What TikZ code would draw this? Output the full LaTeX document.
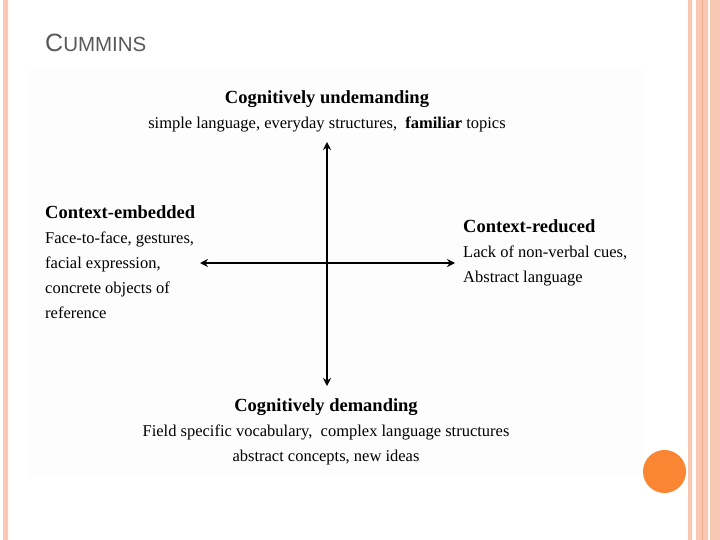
\documentclass[tikz,border=0pt]{standalone}
\usepackage{fontspec}
\usetikzlibrary{arrows.meta}
\setmainfont{Liberation Serif}
\newfontfamily\titlefont{Liberation Sans}
\definecolor{bandpink}{HTML}{F9C8B4}
\definecolor{banddark}{HTML}{EEA88A}
\definecolor{dotorange}{HTML}{FA8633}
\definecolor{titlegray}{HTML}{595959}
\definecolor{pastegray}{HTML}{FDFDFD}
\tikzset{
	head/.style={font=\bfseries\fontsize{18.5}{25}\selectfont},
	body/.style={inner sep=0pt,font=\fontsize{16.5}{25}\selectfont},
	axis/.style={{Stealth[length=8pt,width=8pt]}-{Stealth[length=8pt,width=8pt]},line width=1.7pt}
}
\begin{document}
\begin{tikzpicture}[x=1pt,y=-1pt]
		\useasboundingbox (0,0) rectangle (720,540);
		\fill[white] (0,0) rectangle (720,540);
		\fill[pastegray] (27,69) rectangle (645,478);
		\fill[bandpink] (3,0) rectangle (8,540) (688,0) rectangle (692,540) (696,0) rectangle (708,540) (710,0) rectangle (720,540);
		\fill[banddark] (702,0) rectangle (703,540);
		\fill[dotorange] (664.5,471.5) circle (21.5);
		\node[anchor=base west,inner sep=0pt,text=titlegray] (title) at (45,52) {\titlefont{\fontsize{25}{25}\selectfont C}{\fontsize{20.5}{25}\selectfont UMMINS}};
		\node[body,anchor=north,align=center] (undem) at (327,90) {{\bfseries\fontsize{18.5}{25}\selectfont Cognitively undemanding}\\simple language, everyday structures,\ \ {\bfseries familiar} topics};
		\node[body,anchor=north west,align=left] (embed) at (45,205) {{\bfseries\fontsize{18.5}{25}\selectfont Context-embedded}\\Face-to-face, gestures,\\facial expression,\\concrete objects of\\reference};
		\node[body,anchor=north west,align=left] (reduc) at (463,219) {{\bfseries\fontsize{18.5}{25}\selectfont Context-reduced}\\Lack of non-verbal cues,\\Abstract language};
		\node[body,anchor=north,align=center] (dem) at (326,398) {{\bfseries\fontsize{18.5}{25}\selectfont Cognitively demanding}\\Field specific vocabulary,\ \ complex language structures\\abstract concepts, new ideas};
		\coordinate (up) at (327,142);
		\coordinate (down) at (327,386);
		\coordinate (left) at (200,263);
		\coordinate (right) at (455,263);
		\draw[axis] (up)--(down);
		\draw[axis] (left)--(right);
		\end{tikzpicture}
\end{document}
